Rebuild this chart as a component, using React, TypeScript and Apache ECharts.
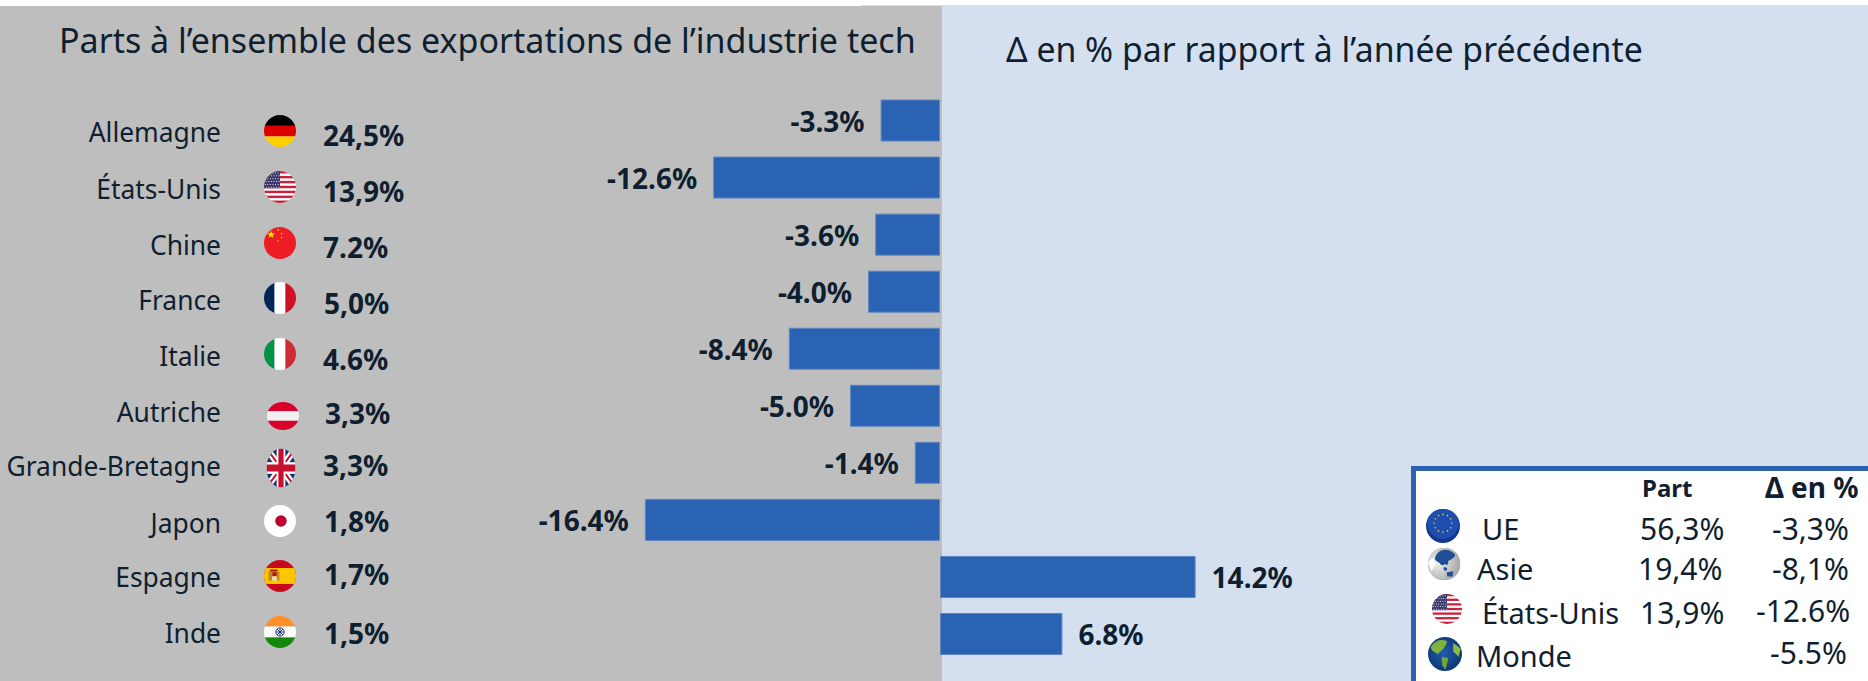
import React, { useEffect, useRef } from "react";
import * as echarts from "echarts";

const countries = ["Allemagne", "États-Unis", "Chine", "France", "Italie", "Autriche", "Grande-Bretagne", "Japon", "Espagne", "Inde"];
const shares = ["24,5%", "13,9%", "7.2%", "5,0%", "4.6%", "3,3%", "3,3%", "1,8%", "1,7%", "1,5%"];
const deltas = [-3.3, -12.6, -3.6, -4.0, -8.4, -5.0, -1.4, -16.4, 14.2, 6.8];
const titleLeft = "Parts à l’ensemble des exportations de l’industrie tech";
const titleRight = "Δ en % par rapport à l’année précédente";
const legendHeaders = ["Part", "Δ en %"];
const legendNames = ["UE", "Asie", "États-Unis", "Monde"];
const legendShares = ["56,3%", "19,4%", "13,9%", ""];
const legendDeltas = ["-3,3%", "-8,1%", "-12.6%", "-5.5%"];

// layout only
const nameY = [132, 189, 245, 300, 356, 412, 466, 523, 577, 633];
const shareY = [135, 191, 247, 303, 359, 413, 465, 521, 574, 633];
const shareX = [323, 323, 323, 324, 323, 325, 323, 324, 324, 324];
const flagBox: number[][] = [
  [280, 131, 32, 32], [280, 187, 32, 32], [280, 243, 32, 32], [280, 298, 32, 32], [280, 354, 32, 32],
  [283, 416, 32, 28], [281, 468, 29, 39], [280, 521, 32, 32], [280, 576, 32, 32], [280, 632, 32, 32],
];

const FONT = "'Noto Sans', sans-serif";
const INK = "#0f1f2f";

const svg = (body: string, defs = "") =>
  "data:image/svg+xml;charset=utf-8," +
  encodeURIComponent(
    `<svg xmlns="http://www.w3.org/2000/svg" viewBox="0 0 100 100" preserveAspectRatio="none"><defs><clipPath id="c"><ellipse cx="50" cy="50" rx="50" ry="50"/></clipPath>${defs}</defs><g clip-path="url(#c)">${body}</g></svg>`
  );
const r = (x: number, y: number, w: number, h: number, f: string) => `<rect x="${x}" y="${y}" width="${w}" height="${h}" fill="${f}"/>`;
const star = (cx: number, cy: number, s: number) => {
  const p: string[] = [];
  for (let i = 0; i < 10; i++) {
    const rad = i % 2 ? s * 0.4 : s;
    const a = -Math.PI / 2 + (i * Math.PI) / 5;
    p.push(`${cx + rad * Math.cos(a)},${cy + rad * Math.sin(a)}`);
  }
  return `<polygon points="${p.join(" ")}" fill="#ffe600"/>`;
};
const usBody = () => {
  let s = r(0, 0, 100, 100, "#fff");
  for (let i = 0; i < 7; i++) s += r(0, (i * 200) / 13, 100, 100 / 13, "#c8223f");
  s += r(0, 0, 50, 54, "#3c3b6e");
  for (let y = 0; y < 6; y++) for (let x = 0; x < 6; x++) s += `<circle cx="${4 + x * 8 + (y % 2) * 3}" cy="${6 + y * 9}" r="1.7" fill="#fff"/>`;
  return s;
};
const flags = [
  svg(r(0, 0, 100, 34, "#000") + r(0, 34, 100, 33, "#dd0000") + r(0, 67, 100, 33, "#ffce00")),
  svg(usBody()),
  svg(r(0, 0, 100, 100, "#ee1c25") + star(22, 24, 13) + star(44, 9, 4) + star(55, 20, 4) + star(55, 33, 4) + star(44, 44, 4)),
  svg(r(0, 0, 33, 100, "#002654") + r(33, 0, 34, 100, "#fff") + r(67, 0, 33, 100, "#ce1126")),
  svg(r(0, 0, 33, 100, "#009246") + r(33, 0, 34, 100, "#fff") + r(67, 0, 33, 100, "#ce2b37")),
  svg(r(0, 0, 100, 33, "#d8002a") + r(0, 33, 100, 34, "#f0f0f0") + r(0, 67, 100, 33, "#d8002a")),
  svg(
    r(0, 0, 100, 100, "#1a2f73") +
      `<path d="M0 0L100 100M100 0L0 100" stroke="#fff" stroke-width="20"/><path d="M0 0L100 100M100 0L0 100" stroke="#c8102e" stroke-width="6"/>` +
      r(35, 0, 30, 100, "#fff") + r(0, 35, 100, 30, "#fff") + r(41, 0, 18, 100, "#c8102e") + r(0, 41, 100, 18, "#c8102e")
  ),
  svg(r(0, 0, 100, 100, "#fff") + `<circle cx="53" cy="50" r="18" fill="#bc002d"/>`),
  svg(
    r(0, 0, 100, 100, "#c60b1e") + r(0, 25, 100, 50, "#ffc400") +
      r(14, 36, 12, 28, "#b9892a") + r(26, 38, 14, 13, "#ad1519") + r(26, 51, 14, 13, "#e8dccd") + r(40, 36, 8, 28, "#b9892a") + r(18, 30, 24, 6, "#a3201c")
  ),
  svg(
    r(0, 0, 100, 33, "#ff8f2a") + r(0, 33, 100, 34, "#fff") + r(0, 67, 100, 33, "#138808") +
      `<circle cx="50" cy="50" r="13" fill="none" stroke="#1f2f86" stroke-width="3"/><path d="M37 50H63M50 37V63M41 41L59 59M59 41L41 59" stroke="#1f2f86" stroke-width="3"/>`
  ),
];
const euDots = Array.from({ length: 12 }, (_, i) => {
  const a = (i * Math.PI) / 6;
  return `<circle cx="${50 + 26 * Math.cos(a)}" cy="${42 + 26 * Math.sin(a)}" r="2.4" fill="#e8c94a"/>`;
}).join("");
const legendIcons = [
  svg(r(0, 0, 100, 100, "#12388f") + `<circle cx="50" cy="42" r="46" fill="#1f4fae"/>` + euDots),
  svg(
    `<rect width="100" height="100" fill="url(#g)"/><path d="M22 34C30 2 64 -2 84 22C80 34 70 36 62 42C66 50 58 56 52 50C46 58 40 52 36 46C30 42 26 42 22 34Z" fill="#1e4f94"/><path d="M52 58L60 64L56 72L48 66Z" fill="#1e4f94"/><path d="M58 76L78 72L76 88L60 88Z" fill="#1e4f94"/><path d="M2 44L18 30L24 52L12 72Z" fill="#ffffff"/>`,
    `<radialGradient id="g" cx="30%" cy="45%" r="80%"><stop offset="0" stop-color="#f2f2f2"/><stop offset="1" stop-color="#9a9a9a"/></radialGradient>`
  ),
  svg(usBody()),
  svg(
    `<rect width="100" height="100" fill="url(#g)"/><path d="M8 30C24 4 50 6 56 14C52 30 42 38 34 44C30 56 24 46 12 40Z" fill="#7fb33c"/><path d="M40 58L60 62L52 96L42 84Z" fill="#6fa833"/><path d="M74 18L96 34L90 58L74 42Z" fill="#8fbb45"/>`,
    `<radialGradient id="g" cx="45%" cy="45%" r="70%"><stop offset="0" stop-color="#1f5cb0"/><stop offset="1" stop-color="#0b2f63"/></radialGradient>`
  ),
];
const legendIconBox = [[1443, 526, 34], [1444, 564, 33], [1447, 609, 30], [1445, 654, 34]];
const legendNameX = [1482, 1477, 1482, 1476];
const legendNameY = [528, 568, 612, 655];
const legendShareX = [1640, 1638, 1640, 1640];
const legendDeltaX = [1772, 1772, 1756, 1770];
const legendDeltaY = [528, 568, 610, 652];

const text = (x: number, y: number, t: string, size: number, opts: any = {}) => ({
  type: "text",
  x,
  y,
  silent: true,
  style: { text: t, fill: INK, font: `${opts.weight || "normal"} ${size}px ${FONT}`, textAlign: opts.align || "left", textVerticalAlign: "middle" },
});
const img = (cx: number, cy: number, w: number, h: number, uri: string) => ({
  type: "image",
  silent: true,
  style: { image: uri, x: cx - w / 2, y: cy - h / 2, width: w, height: h },
});
const rect = (x: number, y: number, w: number, h: number, fill: string, extra: any = {}) => ({
  type: "rect",
  silent: true,
  shape: { x, y, width: w, height: h },
  style: { fill, ...extra },
});

export default function App() {
  const ref = useRef<HTMLDivElement>(null);
  useEffect(() => {
    const chart = echarts.init(ref.current!, null, { renderer: "svg" });
    chart.setOption({
      animation: false,
      backgroundColor: "#ffffff",
      grid: { left: 400, width: 900, top: 92, height: 570.5, containLabel: false },
      xAxis: { type: "value", min: -30, max: 20, show: false },
      yAxis: { type: "category", inverse: true, data: countries, show: false },
      graphic: {
        elements: [
          {
            type: "group",
            z: -1,
            zlevel: 0,
            children: [
              rect(861, 5, 1007, 676, "#d4e0f0"),
              rect(0, 6, 942, 675, "#bebebe"),
            ],
          },
          {
            type: "group",
            z: 10,
            children: [
              text(59, 40, titleLeft, 34),
              text(1006, 49, titleRight, 33.8),
              ...countries.map((c, i) => text(221, nameY[i], c, 26.4, { align: "right" })),
              ...shares.map((s, i) => text(shareX[i], shareY[i], s, 28, { weight: "bold" })),
              ...flags.map((f, i) => img(flagBox[i][0], flagBox[i][1], flagBox[i][2], flagBox[i][3], f)),
              rect(1413.5, 468.5, 460, 220, "#ffffff", { stroke: "#2d63ad", lineWidth: 5 }),
              text(1642, 487, legendHeaders[0], 24, { weight: "bold" }),
              text(1765, 487, legendHeaders[1], 28, { weight: "bold" }),
              ...legendNames.map((n, i) => text(legendNameX[i], legendNameY[i], n, 29)),
              ...legendShares.map((s, i) => text(legendShareX[i], legendNameY[i], s, 30)),
              ...legendDeltas.map((d, i) => text(legendDeltaX[i], legendDeltaY[i], d, 30)),
              ...legendIcons.map((u, i) => img(legendIconBox[i][0], legendIconBox[i][1], legendIconBox[i][2], legendIconBox[i][2], u)),
            ],
          },
        ],
      },
      series: [
        {
          type: "bar",
          barWidth: 42,
          z: 5,
          itemStyle: { color: "#2a63b3", borderColor: "#5f86bf", borderWidth: 1 },
          data: deltas.map((v) => ({
            value: v,
            label: {
              show: true,
              position: v < 0 ? "left" : "right",
              distance: 16,
              formatter: () => `${v.toFixed(1)}%`,
              color: INK,
              fontFamily: FONT,
              fontWeight: "bold",
              fontSize: 28,
            },
          })),
        },
      ],
    });
    return () => chart.dispose();
  }, []);
  return <div ref={ref} style={{ position: "fixed", left: 0, top: 0, width: 1868, height: 681 }} />;
}
